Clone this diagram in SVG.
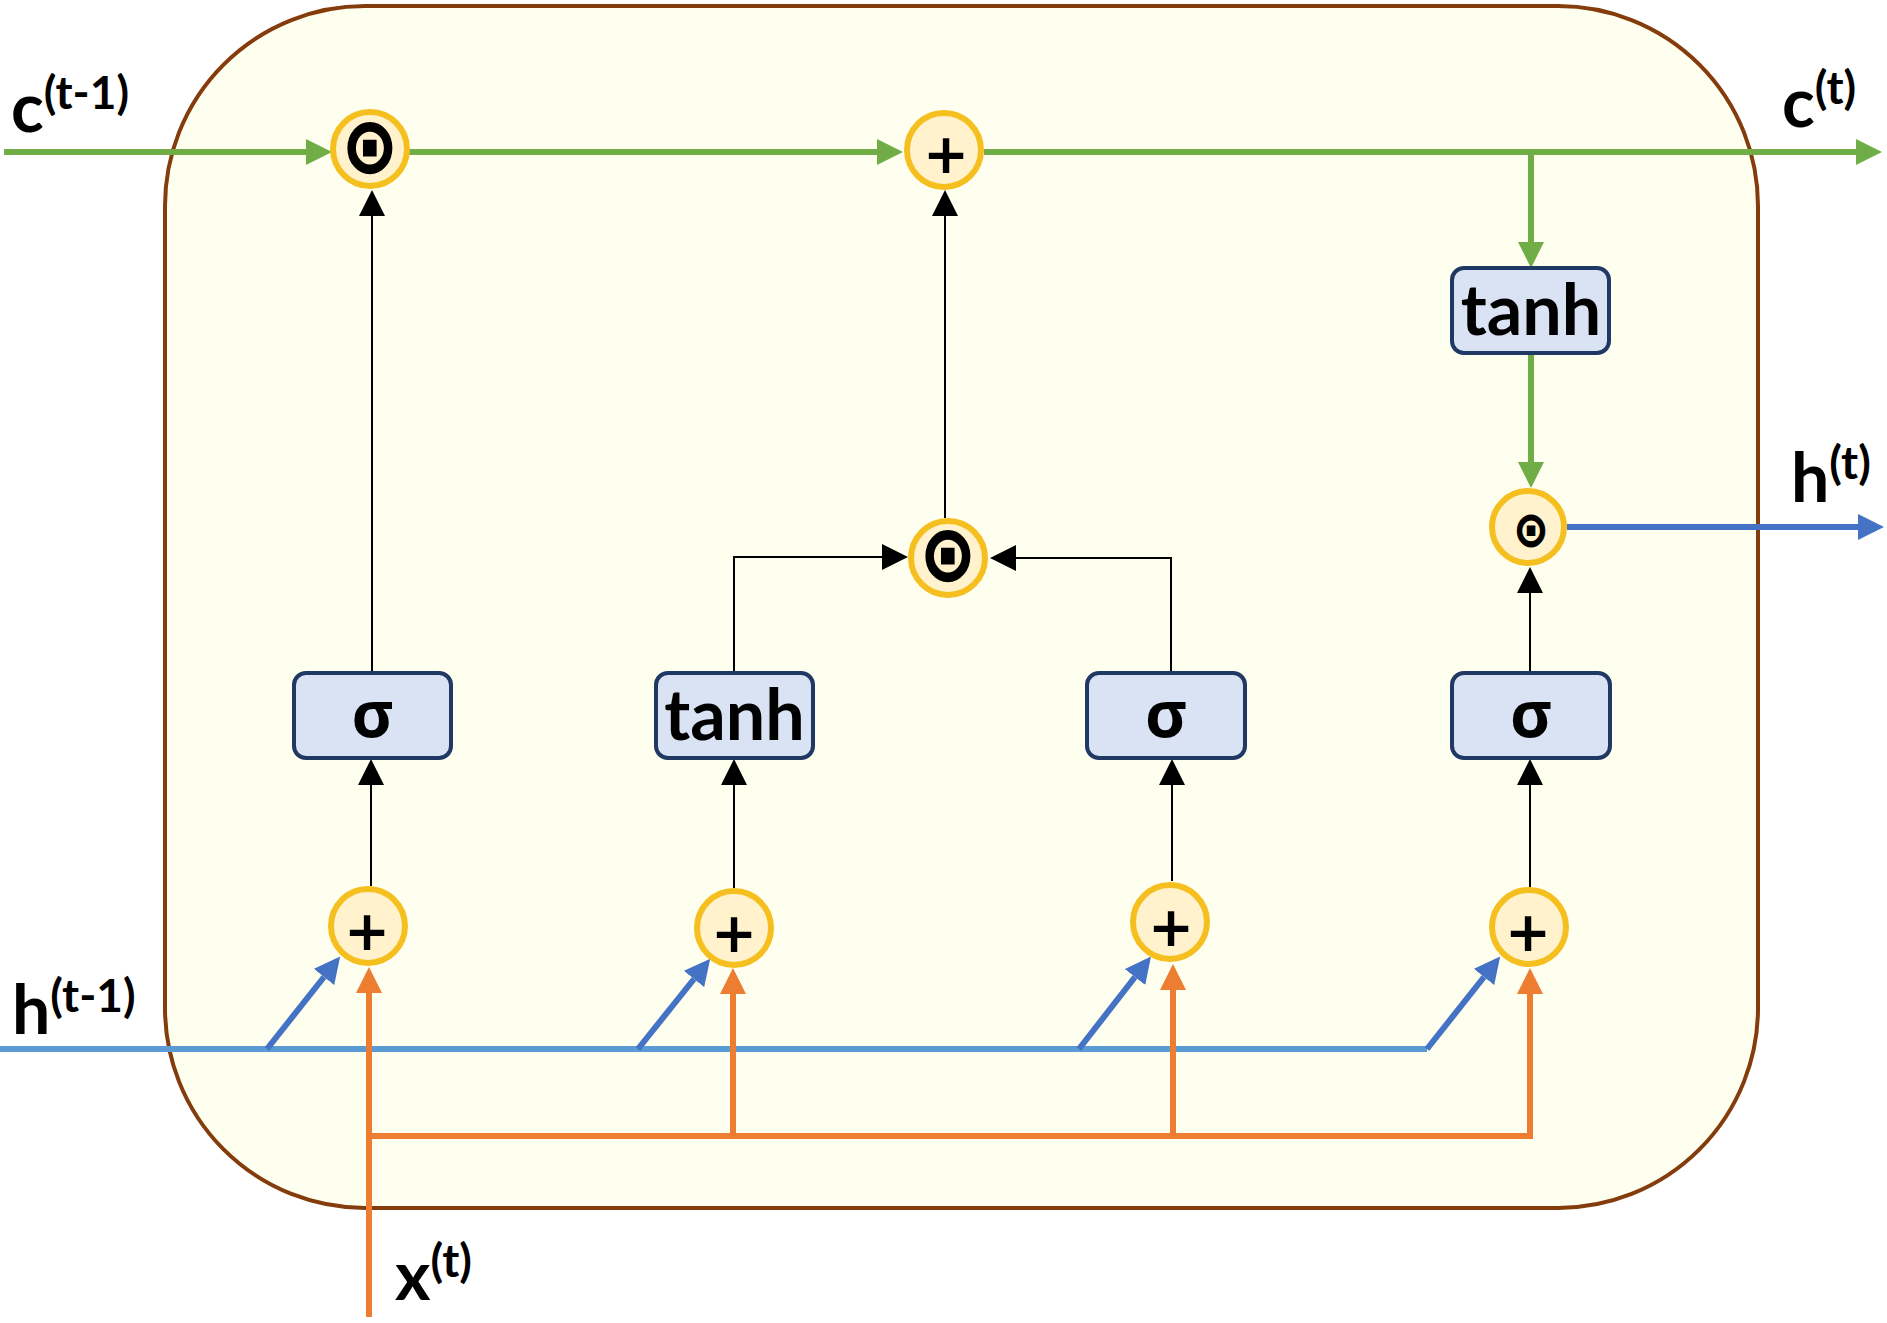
<svg xmlns="http://www.w3.org/2000/svg" width="1887" height="1323" viewBox="0 0 1887 1323">
<defs>
<style>
.op{fill:#FFF2CC;stroke:#F5BF1F;stroke-width:6}
.box{fill:#DAE3F3;stroke:#203864;stroke-width:4}
.lbl{font-family:Lato,"Open Sans",sans-serif;font-weight:bold;fill:#000;font-size:68px}
.sup{font-size:46px}
.sig{font-family:"Open Sans","Noto Sans",sans-serif;font-weight:bold;font-size:64px;text-anchor:middle;fill:#000}
.tanh{font-family:Lato,"Open Sans",sans-serif;font-weight:bold;font-size:70px;text-anchor:middle;fill:#000}
.plus{font-family:"DejaVu Sans",sans-serif;font-weight:bold;font-size:55px;text-anchor:middle;fill:#000}
.dot{font-family:"DejaVu Sans",sans-serif;font-weight:bold;text-anchor:middle;fill:#000;stroke:#000}
.g{stroke:#70AD47;stroke-width:6;fill:none}
.b{stroke:#4472C4;stroke-width:6;fill:none}
.lb{stroke:#5B9BD5;stroke-width:6;fill:none}
.o{stroke:#ED7D31;stroke-width:6;fill:none}
.k{stroke:#000;stroke-width:2;fill:none}
</style>
<marker id="ag" markerUnits="userSpaceOnUse" markerWidth="26" markerHeight="26" refX="0" refY="13" orient="auto" viewBox="0 0 26 26"><path d="M0,0L26,13L0,26z" fill="#70AD47"/></marker>
<marker id="ab" markerUnits="userSpaceOnUse" markerWidth="26" markerHeight="26" refX="0" refY="13" orient="auto" viewBox="0 0 26 26"><path d="M0,0L26,13L0,26z" fill="#4472C4"/></marker>
<marker id="ao" markerUnits="userSpaceOnUse" markerWidth="26" markerHeight="26" refX="0" refY="13" orient="auto" viewBox="0 0 26 26"><path d="M0,0L26,13L0,26z" fill="#ED7D31"/></marker>
<marker id="ak" markerUnits="userSpaceOnUse" markerWidth="26" markerHeight="26" refX="0" refY="13" orient="auto" viewBox="0 0 26 26"><path d="M0,0L26,13L0,26z" fill="#000"/></marker>
</defs>

<g id="cell"><rect x="165" y="6" width="1593" height="1202" rx="200" ry="200" fill="#FFFFF0" stroke="#843C0C" stroke-width="4"/></g>

<g id="connectors">
<line class="g" x1="4" y1="152" x2="306" y2="152" marker-end="url(#ag)"/>
<line class="g" x1="409" y1="152" x2="877" y2="152" marker-end="url(#ag)"/>
<line class="g" x1="984" y1="152" x2="1856" y2="152" marker-end="url(#ag)"/>
<line class="g" x1="1531" y1="152" x2="1531" y2="242" marker-end="url(#ag)"/>
<line class="g" x1="1531" y1="353" x2="1531" y2="462" marker-end="url(#ag)"/>
<line class="b" x1="1567" y1="527" x2="1858" y2="527" marker-end="url(#ab)"/>
<line class="lb" x1="0" y1="1049" x2="1427" y2="1049"/>
<line class="b" x1="267" y1="1049" x2="324" y2="977" marker-end="url(#ab)"/>
<line class="b" x1="638" y1="1049" x2="694" y2="979" marker-end="url(#ab)"/>
<line class="b" x1="1079" y1="1049" x2="1135" y2="977" marker-end="url(#ab)"/>
<line class="b" x1="1427" y1="1049" x2="1484" y2="977" marker-end="url(#ab)"/>
<line class="o" x1="369" y1="1317" x2="369" y2="993" marker-end="url(#ao)"/>
<polyline class="o" points="369,1136 1530,1136 1530,994" marker-end="url(#ao)"/>
<line class="o" x1="733" y1="1136" x2="733" y2="994" marker-end="url(#ao)"/>
<line class="o" x1="1173" y1="1136" x2="1173" y2="990" marker-end="url(#ao)"/>
<line class="k" x1="372" y1="673" x2="372" y2="216" marker-end="url(#ak)"/>
<polyline class="k" points="734,673 734,557 882,557" marker-end="url(#ak)"/>
<polyline class="k" points="1171,673 1171,558 1016,558" marker-end="url(#ak)"/>
<line class="k" x1="945" y1="518" x2="945" y2="216" marker-end="url(#ak)"/>
<line class="k" x1="1530" y1="673" x2="1530" y2="593" marker-end="url(#ak)"/>
<line class="k" x1="371" y1="886" x2="371" y2="785" marker-end="url(#ak)"/>
<line class="k" x1="734" y1="888" x2="734" y2="785" marker-end="url(#ak)"/>
<line class="k" x1="1172" y1="881" x2="1172" y2="785" marker-end="url(#ak)"/>
<line class="k" x1="1530" y1="887" x2="1530" y2="785" marker-end="url(#ak)"/>
</g>

<g id="mul_forget"><circle class="op" cx="370" cy="149" r="37"/><text class="dot" font-size="76" stroke-width="2.5" transform="translate(370,172) scale(0.86,1)">⊙</text></g>
<g id="add_cell"><circle class="op" cx="944" cy="150" r="37"/><text class="plus" x="946" y="173">+</text></g>
<g id="tanh_c"><rect class="box" x="1452" y="268" width="157" height="85" rx="12"/><text class="tanh" x="1531" y="335">tanh</text></g>
<g id="mul_out"><circle class="op" cx="1528" cy="527" r="36"/><text class="dot" font-size="48" stroke-width="1.5" transform="translate(1531,546) scale(0.86,1)">⊙</text></g>
<g id="mul_input"><circle class="op" cx="948" cy="558" r="37"/><text class="dot" font-size="76" stroke-width="2.5" transform="translate(948,580) scale(0.86,1)">⊙</text></g>

<g id="sig_f"><rect class="box" x="294" y="673" width="157" height="85" rx="12"/><text class="sig" x="372.5" y="737">σ</text></g>
<g id="tanh_g"><rect class="box" x="656" y="673" width="157" height="85" rx="12"/><text class="tanh" x="734.5" y="740">tanh</text></g>
<g id="sig_i"><rect class="box" x="1087" y="673" width="158" height="85" rx="12"/><text class="sig" x="1166" y="737">σ</text></g>
<g id="sig_o"><rect class="box" x="1452" y="673" width="158" height="85" rx="12"/><text class="sig" x="1531" y="737">σ</text></g>

<g id="add_f"><circle class="op" cx="368" cy="926" r="37"/><text class="plus" x="367" y="950">+</text></g>
<g id="add_g"><circle class="op" cx="734" cy="928" r="37"/><text class="plus" x="734" y="952">+</text></g>
<g id="add_i"><circle class="op" cx="1170" cy="922" r="37"/><text class="plus" x="1171" y="946">+</text></g>
<g id="add_o"><circle class="op" cx="1529" cy="927" r="37"/><text class="plus" x="1528" y="951">+</text></g>

<g id="labels">
<text class="lbl" x="11" y="132">c<tspan class="sup" dy="-23">(t-1)</tspan></text>
<text class="lbl" x="1782" y="127">c<tspan class="sup" dy="-23">(t)</tspan></text>
<text class="lbl" x="1791" y="502">h<tspan class="sup" dy="-23">(t)</tspan></text>
<text class="lbl" x="12" y="1034">h<tspan class="sup" dy="-22">(t-1)</tspan></text>
<text class="lbl" x="395" y="1300">x<tspan class="sup" dy="-23">(t)</tspan></text>
</g>
</svg>
